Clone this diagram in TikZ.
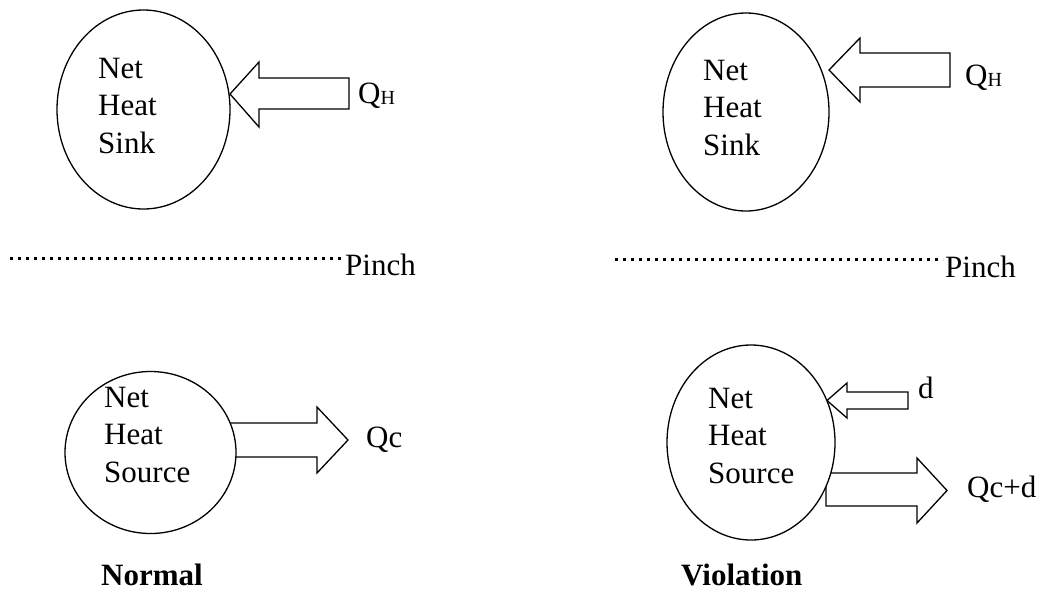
\documentclass[tikz,border=0pt]{standalone}
\usepackage{fontspec}
\setmainfont{Liberation Serif}
\usetikzlibrary{shapes.geometric}
\begin{document}
\begin{tikzpicture}[x=1pt,y=-1pt,
  body/.style={font=\fontsize{31}{37.5}\selectfont, inner sep=0pt, anchor=base west, align=left},
  lbl/.style={font=\fontsize{31}{37}\selectfont, inner sep=0pt, anchor=base west},
  bold/.style={font=\fontsize{31}{37}\selectfont\bfseries, inner sep=0pt, anchor=base west},
  blob/.style={ellipse, draw, fill=white, line width=1.3pt, inner sep=0pt},
  blockarrow/.style={draw, fill=white, line width=1.3pt, line join=miter},
  pinchline/.style={line width=3pt, dash pattern=on 3pt off 5pt},
  pinchlbl/.style={font=\fontsize{31}{37}\selectfont, inner sep=0pt, anchor=base west}
]
\useasboundingbox (0,0) rectangle (1040,600);
\fill[white] (0,0) rectangle (1040,600);

% ---------- Left (Normal) ----------
\draw[blockarrow] (230,94) -- (259,62) -- (259,78) -- (349,78) -- (349,109) -- (259,109) -- (259,127) -- cycle;
\node[blob, minimum width=173pt, minimum height=199pt] (sinkL) at (143.5,109.5) {};
\node[body] (sinkLt) at (98,153) {Net\\Heat\\Sink};
\node[lbl] (qhL) at (358,103) {Q\raisebox{-1pt}{\fontsize{20}{20}\selectfont H}};

\coordinate (pinLa) at (10,258);
\coordinate (pinLb) at (343,258);
\draw[pinchline] (pinLa) -- (pinLb);
\node[pinchlbl] (pinchL) at (345,275) {Pinch};

\draw[blockarrow] (222,423) -- (317,423) -- (317,407) -- (348,440) -- (317,473) -- (317,457) -- (222,457) -- cycle;
\node[blob, minimum width=171pt, minimum height=162pt] (srcL) at (150.5,452.5) {};
\node[body] (srcLt) at (104,482) {Net\\Heat\\Source};
\node[lbl] (qcL) at (366,447) {Qc};
\node[bold] (normal) at (101,585) {Normal};

% ---------- Right (Violation) ----------
\draw[blockarrow] (829,70) -- (860,38) -- (860,53) -- (950,53) -- (950,87) -- (860,87) -- (860,102) -- cycle;
\node[blob, minimum width=166pt, minimum height=198pt] (sinkR) at (746,112) {};
\node[body] (sinkRt) at (703,155) {Net\\Heat\\Sink};
\node[lbl] (qhR) at (965,85) {Q\raisebox{-1pt}{\fontsize{20}{20}\selectfont H}};

\coordinate (pinRa) at (615,259);
\coordinate (pinRb) at (943,259);
\draw[pinchline] (pinRa) -- (pinRb);
\node[pinchlbl] (pinchR) at (945,277) {Pinch};

\draw[blockarrow] (826,473) -- (917,473) -- (917,458) -- (947,490.5) -- (917,523) -- (917,506) -- (826,506) -- cycle;
\node[blob, minimum width=168pt, minimum height=195pt] (srcR) at (751,442.5) {};
\draw[blockarrow] (827,400.5) -- (847,383) -- (847,392) -- (908,392) -- (908,409) -- (847,409) -- (847,418) -- cycle;
\node[body] (srcRt) at (708,483) {Net\\Heat\\Source};
\node[lbl] (dR) at (918,398) {d};
\node[lbl] (qcdR) at (967,497) {Qc+d};
\node[bold] (violation) at (681,585) {Violation};
\end{tikzpicture}
\end{document}
